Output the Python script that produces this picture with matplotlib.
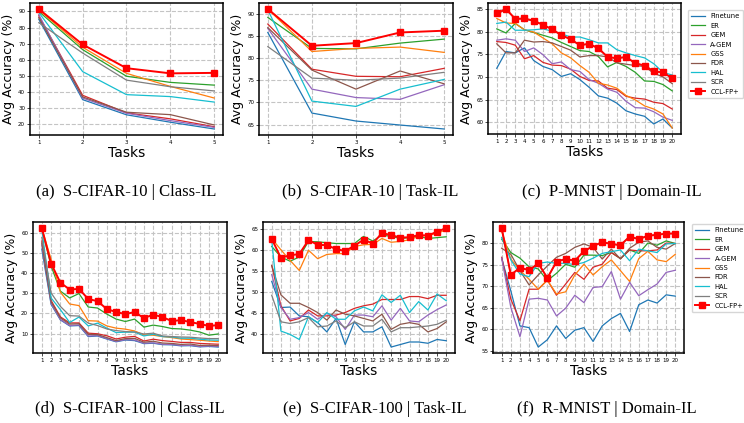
import matplotlib
matplotlib.use('Agg')
import matplotlib.pyplot as plt

methods = ['Finetune', 'ER', 'GEM', 'A-GEM', 'GSS', 'FDR', 'HAL', 'SCR', 'CCL-FP+']
colors = ['#1f77b4', '#2ca02c', '#d62728', '#9467bd', '#ff7f0e', '#8c564b', '#17becf', '#7f7f7f', 'red']

# (a) S-CIFAR-10 | Class-IL
a_finetune = [85.2, 35.3, 25.9, 21.3, 17.1]
a_er = [90.0, 66.3, 49.8, 46.0, 44.3]
a_gem = [87.3, 38.0, 27.1, 23.4, 18.5]
a_agem = [88.0, 36.3, 26.9, 22.3, 18.1]
a_gss = [91.0, 67.8, 51.6, 43.5, 36.3]
a_fdr = [86.2, 37.0, 27.5, 26.0, 19.6]
a_hal = [89.4, 52.7, 38.4, 37.2, 33.8]
a_scr = [83.0, 64.2, 47.4, 43.3, 40.7]
a_ccl = [91.5, 69.5, 54.8, 51.6, 51.9]

# (b) S-CIFAR-10 | Task-IL
b_finetune = [85.8, 67.6, 65.8, 64.9, 64.0]
b_er = [89.2, 82.2, 82.1, 83.4, 84.3]
b_gem = [87.7, 77.5, 75.9, 75.8, 77.7]
b_agem = [86.7, 73.0, 71.1, 70.7, 74.0]
b_gss = [91.1, 81.5, 82.2, 82.5, 81.3]
b_fdr = [86.9, 77.3, 73.0, 77.1, 74.2]
b_hal = [90.9, 70.3, 69.1, 73.0, 75.2]
b_scr = [82.6, 75.5, 75.0, 75.5, 76.8]
b_ccl = [91.1, 82.8, 83.4, 85.8, 86.2]

# (c) P-MNIST | Domain-IL
c_finetune = [71.9, 75.6, 75.3, 76.4, 73.6, 72.3, 71.6, 70.1, 70.7, 69.4, 67.7, 65.8, 65.3, 64.2, 62.5, 61.8, 61.3, 59.6, 60.7, 58.7]
c_er = [80.6, 79.7, 81.8, 80.4, 79.8, 79.2, 78.6, 77.6, 76.7, 75.8, 75.6, 74.5, 72.2, 73.2, 72.3, 71.0, 69.1, 69.0, 68.3, 66.9]
c_gem = [77.8, 77.6, 77.0, 74.0, 74.7, 73.2, 72.6, 72.5, 71.7, 70.1, 69.2, 69.1, 67.5, 67.2, 65.7, 65.3, 65.1, 64.4, 64.1, 62.9]
c_agem = [78.1, 78.4, 78.1, 75.6, 76.4, 74.9, 72.9, 73.3, 71.6, 71.2, 69.4, 68.6, 67.3, 66.6, 64.6, 63.2, 63.1, 62.3, 61.1, 60.4]
c_gss = [82.9, 81.9, 81.8, 80.4, 79.9, 78.6, 77.3, 75.3, 74.2, 72.5, 71.0, 68.6, 68.2, 67.5, 65.9, 64.9, 63.6, 62.9, 61.8, 58.7]
c_fdr = [77.3, 75.3, 75.3, 78.1, 77.7, 77.8, 77.5, 76.7, 75.9, 74.4, 74.7, 74.7, 74.4, 73.1, 72.8, 72.5, 72.3, 70.8, 70.0, 68.5]
c_hal = [81.8, 82.1, 80.3, 80.3, 80.4, 80.6, 80.1, 79.5, 78.8, 78.8, 78.2, 77.5, 77.5, 76.0, 75.3, 74.7, 74.2, 72.9, 71.0, 70.4]
c_scr = [83.9, 84.9, 82.8, 82.8, 82.3, 81.5, 80.5, 79.2, 78.3, 77.0, 77.3, 76.3, 74.4, 74.1, 74.4, 73.0, 72.5, 71.2, 71.0, 69.7]
c_ccl = [84.0, 85.0, 82.8, 82.9, 82.4, 81.5, 80.5, 79.2, 78.3, 77.0, 77.3, 76.3, 74.4, 74.1, 74.4, 73.0, 72.5, 71.2, 71.0, 69.7]

# (d) S-CIFAR-100 | Class-IL
d_finetune = [52.0, 24.5, 16.8, 13.8, 14.0, 8.5, 8.8, 7.3, 5.9, 6.8, 6.5, 5.0, 5.2, 4.5, 4.4, 3.9, 4.0, 3.4, 3.6, 3.3]
d_er = [62.0, 43.6, 31.1, 27.7, 29.9, 23.2, 22.7, 19.7, 17.2, 16.0, 17.2, 13.2, 14.2, 13.5, 12.5, 12.3, 11.7, 10.8, 9.2, 9.8]
d_gem = [56.0, 26.5, 18.3, 15.3, 15.3, 10.2, 9.9, 8.9, 7.3, 8.2, 8.6, 6.3, 7.2, 6.5, 6.1, 5.6, 5.6, 5.1, 4.9, 4.7]
d_agem = [54.0, 25.0, 17.0, 14.0, 14.3, 8.8, 9.0, 7.5, 6.1, 7.0, 6.8, 5.2, 5.4, 4.7, 4.6, 4.1, 4.2, 3.6, 3.8, 3.6]
d_gss = [62.3, 47.0, 30.6, 24.7, 23.9, 16.4, 16.2, 13.8, 12.7, 12.2, 11.3, 9.3, 9.2, 8.5, 8.0, 7.3, 7.0, 6.7, 6.3, 6.0]
d_fdr = [55.0, 25.8, 17.8, 14.7, 14.9, 9.6, 9.5, 8.0, 6.5, 7.5, 7.6, 5.7, 6.2, 5.3, 5.1, 4.6, 4.8, 4.1, 4.2, 4.0]
d_hal = [61.7, 27.7, 21.9, 15.5, 18.2, 13.8, 15.2, 12.7, 10.5, 10.7, 10.7, 8.8, 9.7, 8.5, 8.3, 7.7, 7.7, 7.2, 6.8, 6.7]
d_scr = [57.8, 30.2, 23.5, 18.9, 18.7, 15.2, 14.0, 12.3, 11.5, 11.0, 10.8, 9.8, 10.2, 8.8, 8.5, 8.3, 8.2, 7.8, 7.5, 7.5]
d_ccl = [62.5, 44.8, 35.3, 31.9, 32.2, 27.2, 26.1, 22.2, 20.7, 19.7, 20.7, 17.7, 19.4, 18.2, 16.2, 16.7, 15.7, 14.8, 13.8, 14.2]

# (e) S-CIFAR-100 | Task-IL
e_finetune = [52.6, 46.4, 46.5, 44.4, 44.2, 42.8, 40.6, 43.8, 37.6, 43.0, 40.6, 40.6, 41.8, 37.0, 37.6, 38.2, 38.2, 37.9, 38.8, 38.5]
e_er = [60.9, 58.4, 57.4, 58.4, 62.1, 62.0, 61.8, 61.6, 61.6, 61.6, 63.3, 62.2, 63.6, 63.3, 62.8, 63.0, 63.3, 62.8, 63.0, 63.2]
e_gem = [56.4, 46.8, 43.2, 43.8, 45.8, 44.4, 44.4, 44.6, 45.2, 46.2, 46.8, 47.2, 48.3, 48.3, 48.3, 49.0, 49.0, 48.5, 49.3, 49.3]
e_agem = [54.2, 46.4, 43.6, 44.0, 45.2, 43.6, 45.0, 44.2, 41.2, 44.6, 44.6, 44.2, 46.8, 43.4, 46.2, 43.2, 43.0, 44.6, 45.9, 47.0]
e_gss = [62.8, 60.1, 57.6, 55.2, 60.0, 58.0, 59.0, 59.2, 59.2, 60.9, 61.3, 61.4, 62.8, 61.9, 62.1, 62.5, 63.3, 63.6, 64.0, 64.9]
e_fdr = [56.4, 49.4, 47.4, 47.4, 46.4, 45.2, 43.4, 45.8, 44.8, 44.4, 43.8, 43.2, 44.8, 41.2, 42.4, 42.8, 42.4, 40.6, 41.4, 43.0]
e_hal = [62.4, 40.8, 40.0, 38.8, 44.2, 42.8, 45.2, 43.6, 43.6, 45.6, 46.5, 45.6, 49.4, 47.6, 49.3, 45.2, 47.8, 45.8, 49.6, 48.0]
e_scr = [49.3, 43.0, 42.6, 43.0, 44.0, 41.8, 42.0, 43.2, 41.6, 43.0, 42.0, 42.0, 43.6, 40.6, 41.6, 41.6, 41.8, 42.0, 42.4, 43.4]
e_ccl = [62.7, 58.2, 58.8, 59.1, 62.4, 61.3, 61.2, 60.3, 59.8, 61.1, 62.5, 61.6, 64.1, 63.6, 63.0, 63.1, 63.6, 63.5, 64.4, 65.3]

# (f) R-MNIST | Domain-IL
f_finetune = [76.5, 68.9, 60.8, 60.4, 55.9, 57.6, 60.8, 57.9, 59.8, 60.4, 57.2, 60.8, 62.5, 63.7, 59.5, 65.7, 66.8, 66.1, 68.0, 67.7]
f_er = [80.9, 77.8, 76.5, 74.5, 74.0, 71.3, 73.0, 75.1, 74.4, 77.2, 77.2, 77.1, 77.8, 76.4, 78.4, 77.6, 80.0, 79.5, 80.5, 79.9]
f_gem = [76.7, 67.0, 62.0, 69.3, 69.3, 71.4, 67.9, 70.5, 73.2, 71.6, 74.4, 75.1, 77.8, 76.4, 78.4, 78.2, 78.2, 78.4, 80.0, 79.9]
f_agem = [76.5, 65.1, 58.3, 67.0, 67.2, 66.8, 63.1, 64.9, 67.9, 66.2, 69.7, 69.9, 73.4, 67.0, 70.9, 67.8, 69.2, 70.5, 73.2, 73.7]
f_gss = [82.7, 76.3, 73.7, 71.6, 69.3, 71.4, 68.2, 68.7, 72.6, 75.1, 72.6, 74.5, 76.1, 73.6, 71.1, 76.4, 78.1, 76.1, 75.7, 77.4]
f_fdr = [78.8, 77.4, 73.6, 70.3, 72.6, 74.7, 76.7, 77.6, 79.0, 79.8, 79.0, 76.3, 78.6, 76.3, 78.8, 80.2, 80.5, 79.0, 78.6, 79.9]
f_hal = [81.3, 76.1, 72.8, 72.2, 75.3, 75.6, 75.3, 75.3, 75.0, 75.5, 76.5, 77.6, 78.0, 78.4, 75.9, 78.6, 78.2, 77.8, 79.8, 79.9]
f_scr = [83.4, 72.6, 74.3, 73.7, 75.3, 71.9, 75.7, 76.3, 75.9, 78.1, 79.3, 80.2, 79.8, 79.5, 81.5, 80.9, 81.7, 81.9, 82.2, 82.2]
f_ccl = [83.5, 72.6, 74.3, 73.7, 75.3, 71.9, 75.7, 76.3, 75.9, 78.1, 79.3, 80.2, 79.8, 79.5, 81.5, 80.9, 81.7, 81.9, 82.2, 82.2]

captions = ['(a)  S-CIFAR-10 | Class-IL', '(b)  S-CIFAR-10 | Task-IL', '(c)  P-MNIST | Domain-IL',
            '(d)  S-CIFAR-100 | Class-IL', '(e)  S-CIFAR-100 | Task-IL', '(f)  R-MNIST | Domain-IL']
yticks_list = [list(range(20, 91, 10)), list(range(65, 91, 5)), list(range(60, 86, 5)),
               list(range(10, 61, 10)), list(range(40, 66, 5)), list(range(55, 81, 5))]

panels = [
    [a_finetune, a_er, a_gem, a_agem, a_gss, a_fdr, a_hal, a_scr, a_ccl],
    [b_finetune, b_er, b_gem, b_agem, b_gss, b_fdr, b_hal, b_scr, b_ccl],
    [c_finetune, c_er, c_gem, c_agem, c_gss, c_fdr, c_hal, c_scr, c_ccl],
    [d_finetune, d_er, d_gem, d_agem, d_gss, d_fdr, d_hal, d_scr, d_ccl],
    [e_finetune, e_er, e_gem, e_agem, e_gss, e_fdr, e_hal, e_scr, e_ccl],
    [f_finetune, f_er, f_gem, f_agem, f_gss, f_fdr, f_hal, f_scr, f_ccl],
]

W, H = 744, 423
# axes boxes in pixels: left, top, right, bottom
boxes = [(30, 3, 223, 135), (259, 3, 453, 135), (488, 3, 681, 134),
         (33, 222, 227, 353), (263, 222, 455, 353), (493, 222, 684, 353)]
cap_pos = [(126, 192), (370, 192), (612, 192), (130, 409), (375, 409), (607, 409)]

fig = plt.figure(figsize=(W / 100, H / 100), dpi=100)

for i, (series, box) in enumerate(zip(panels, boxes)):
    l, t, r, b = box
    ax = fig.add_axes([l / W, 1 - b / H, (r - l) / W, (b - t) / H])
    n = len(series[0])
    x = list(range(1, n + 1))
    for name, col, vals in zip(methods, colors, series):
        if name == 'CCL-FP+':
            ax.plot(x, vals, color=col, lw=1.4, marker='s', markersize=4.2, label=name, zorder=5)
        else:
            ax.plot(x, vals, color=col, lw=0.9, label=name)
    ax.set_xticks(x)
    ax.set_yticks(yticks_list[i])
    ax.grid(True, color='#c4c4c4', linestyle='--', linewidth=0.8)
    ax.tick_params(labelsize=4, length=2, width=0.5, pad=1.5)
    for sp in ax.spines.values():
        sp.set_linewidth(1.1)
    ax.set_xlabel('Tasks', fontsize=10, labelpad=1)
    ax.set_ylabel('Avg Accuracy (%)', fontsize=9, labelpad=2)
    if i == 2:
        ax.legend(loc='upper left', bbox_to_anchor=(1.036, 0.947), borderaxespad=0,
                  fontsize=4.9, handlelength=2.0, labelspacing=0.5, borderpad=0.5)
    if i == 5:
        ax.legend(loc='upper left', bbox_to_anchor=(1.042, 0.985), borderaxespad=0,
                  fontsize=4.9, handlelength=2.0, labelspacing=0.5, borderpad=0.5)
    cx, cy = cap_pos[i]
    fig.text(cx / W, 1 - cy / H, captions[i], ha='center', va='center',
             fontsize=12, family='Liberation Serif')

fig.savefig('out.png', dpi=100)
